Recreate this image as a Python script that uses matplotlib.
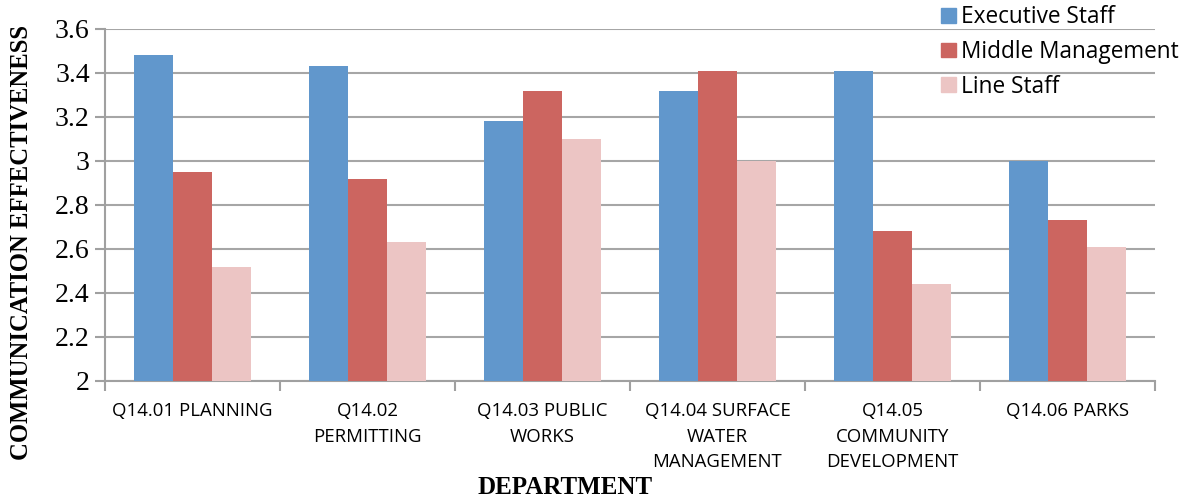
import matplotlib
matplotlib.use("Agg")
import matplotlib.pyplot as plt
import numpy as np
from matplotlib.patches import Patch

categories = ["Q14.01 PLANNING", "Q14.02\nPERMITTING", "Q14.03 PUBLIC\nWORKS",
              "Q14.04 SURFACE\nWATER\nMANAGEMENT", "Q14.05\nCOMMUNITY\nDEVELOPMENT", "Q14.06 PARKS"]
series_names = ["Executive Staff", "Middle Management", "Line Staff"]
executive = [3.48, 3.43, 3.18, 3.32, 3.41, 3.00]
middle = [2.95, 2.92, 3.32, 3.41, 2.68, 2.73]
line_staff = [2.52, 2.63, 3.10, 3.00, 2.44, 2.61]
yticks = [2, 2.2, 2.4, 2.6, 2.8, 3, 3.2, 3.4, 3.6]
ytick_labels = ["2", "2.2", "2.4", "2.6", "2.8", "3", "3.2", "3.4", "3.6"]

colors = ["#6197CC", "#CC6560", "#ECC5C4"]

fig = plt.figure(figsize=(11.95, 4.99), dpi=100)
ax = fig.add_axes([105/1195, 118/499, 1050/1195, 352/499])

x = np.arange(len(categories))
w = 1/4.5
for i, vals in enumerate([executive, middle, line_staff]):
    ax.bar(x + (i - 1) * w, np.array(vals) - 2, bottom=2, width=w, color=colors[i], zorder=3)

ax.set_xlim(-0.5, len(categories) - 0.5)
ax.set_ylim(2, 3.6)
ax.set_yticks(yticks)
ax.set_yticklabels(ytick_labels, family="Liberation Serif", fontsize=20)
ax.set_xticks(x)
ax.set_xticklabels(categories, family="Open Sans", fontsize=13.4, linespacing=1.55, va="top")
ax.tick_params(axis="x", length=0, pad=15)
ax.set_xticks(np.arange(-0.5, len(categories)), minor=True)
ax.tick_params(axis="x", which="minor", length=7, width=1.5, color="#A0A0A0")
ax.tick_params(axis="y", length=7, width=1.5, color="#A0A0A0", pad=4)

ax.grid(axis="y", color="#A6A6A6", linewidth=1.5, zorder=0)
for s in ["top", "right"]:
    ax.spines[s].set_visible(False)
for s in ["left", "bottom"]:
    ax.spines[s].set_color("#A0A0A0")
    ax.spines[s].set_linewidth(1.5)

fig.text(22/1195, 1 - 242/499, "COMMUNICATION EFFECTIVENESS", family="Liberation Serif",
         fontweight="bold", fontsize=17.7, rotation=90, ha="center", va="center")
fig.text(565/1195, 1 - 488/499, "DEPARTMENT", family="Liberation Serif", fontweight="bold",
         fontsize=18, ha="center", va="center")

handles = [Patch(color=c) for c in colors]
fig.legend(handles, series_names, loc="upper left", bbox_to_anchor=(921/1195, 1.03),
           frameon=False, prop={"family": "Open Sans", "size": 16.3},
           handlelength=0.63, handleheight=0.63, handletextpad=0.25, labelspacing=0.47)

fig.savefig("out.png", dpi=100)
